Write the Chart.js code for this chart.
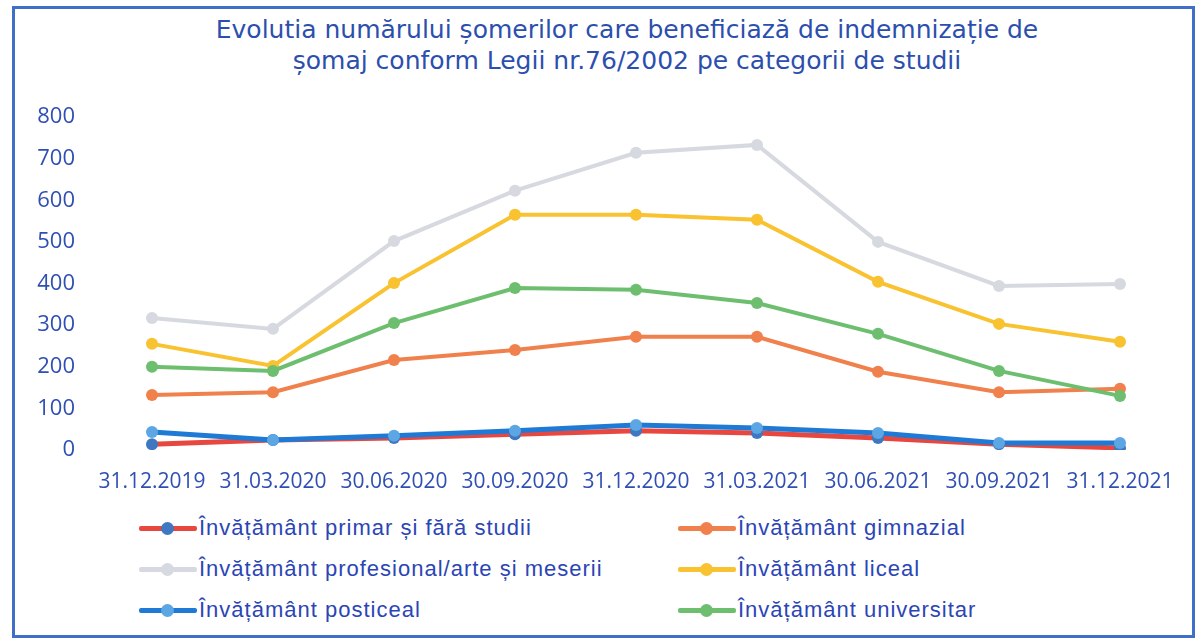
<!DOCTYPE html>
<html>
<head>
<meta charset="utf-8">
<script src="https://cdn.jsdelivr.net/npm/chart.js@4"></script>
<style>
  body { margin:0; background:#fff; }
  #page { position:relative; width:1197px; height:641px; overflow:hidden; background:#fff; }
  #frame { position:absolute; left:12px; top:6px; width:1177px; height:626px; border:3px solid #3f6fc7; }
  #title { position:absolute; left:0; top:14px; width:1254px; text-align:center;
           font-family:"DejaVu Sans", sans-serif; font-size:25px; line-height:31px; color:#2c4fae; }
  #box { position:absolute; left:0; top:92px; width:1197px; height:408px; }
  #legend { position:absolute; left:139px; top:507px; display:grid;
            grid-template-columns:539px 300px; grid-auto-rows:41px; }
  .item { display:flex; align-items:center; font-family:"Liberation Sans", Arial, sans-serif;
          font-size:22px; letter-spacing:1px; color:#2b45b5; white-space:nowrap; }
  .mark { position:relative; width:58px; height:14px; margin-right:2px; }
  .mark .ln { position:absolute; left:0; right:0; top:5px; height:5px; border-radius:2px; }
  .mark .dot { position:absolute; left:22px; top:1px; width:13px; height:13px; border-radius:50%; }
</style>
</head>
<body>
<div id="page">
  <div id="frame"></div>
  <div id="title">Evolutia numărului șomerilor care beneficiază de indemnizație de<br>șomaj conform Legii nr.76/2002 pe categorii de studii</div>
  <div id="box"><canvas id="myChart"></canvas></div>
  <div id="legend"></div>
</div>
<script>
// data
const labels = ['31.12.2019','31.03.2020','30.06.2020','30.09.2020','31.12.2020','31.03.2021','30.06.2021','30.09.2021','31.12.2021'];
const primar = [14, 24, 29, 38, 46, 41, 29, 14, 5];
const gimnazial = [132, 139, 216, 240, 272, 272, 188, 139, 147];
const profesional = [317, 291, 502, 623, 714, 733, 500, 394, 399];
const liceal = [255, 202, 401, 565, 565, 553, 404, 303, 260];
const posticeal = [43, 24, 34, 46, 60, 53, 41, 17, 17];
const universitar = [200, 190, 305, 389, 385, 353, 279, 190, 130];
const yMin = 0, yMax = 800, yStep = 100;

const tickColor = '#2f4fb3';

function serie(label, data, line, dot, width, order) {
  return {
    label: label, data: data,
    borderColor: line, backgroundColor: dot,
    pointBackgroundColor: dot, pointBorderColor: dot,
    borderWidth: width, pointRadius: 6, pointBorderWidth: 0,
    tension: 0, order: order
  };
}

const ctx = document.getElementById('myChart').getContext('2d');
const myChart = new Chart(ctx, {
  type: 'line',
  data: {
    labels: labels,
    datasets: [
      serie('Învățământ primar și fără studii', primar, '#e8473f', '#3f78c0', 5, 6),
      serie('Învățământ gimnazial', gimnazial, '#f0804c', '#f0804c', 4, 5),
      serie('Învățământ profesional/arte și meserii', profesional, '#d6d9df', '#d6d9df', 4, 4),
      serie('Învățământ liceal', liceal, '#f8c230', '#f8c230', 4, 3),
      serie('Învățământ posticeal', posticeal, '#1f7ad6', '#5ba6e3', 5, 2),
      serie('Învățământ universitar', universitar, '#6dbf6f', '#6dbf6f', 4, 1)
    ]
  },
  options: {
    responsive: true,
    maintainAspectRatio: false,
    animation: false,
    layout: { padding: { top: 25, right: 77, left: 0, bottom: 0 } },
    plugins: { legend: { display: false }, tooltip: { enabled: false } },
    scales: {
      x: {
        grid: { display: false, drawTicks: false },
        border: { display: false },
        ticks: { color: tickColor, font: { family: 'Open Sans', size: 21 }, padding: 19, maxRotation: 0, autoSkip: false },
        afterFit: function (s) { s.height = 50; }
      },
      y: {
        min: yMin, max: yMax,
        grid: { display: false, drawTicks: false },
        border: { display: false },
        ticks: { stepSize: yStep, color: tickColor, font: { family: 'Open Sans', size: 22 }, padding: 77 },
        afterFit: function (s) {
          s.width = 152;
          // the big tick padding must not push the plot down
          s.paddingTop = 0;
          s.paddingBottom = 0;
        }
      }
    }
  }
});

// legend in two columns, built from the datasets
const legend = document.getElementById('legend');
myChart.data.datasets.forEach(function (ds) {
  const item = document.createElement('div');
  item.className = 'item';
  item.innerHTML = '<span class="mark"><span class="ln" style="background:' + ds.borderColor +
    '"></span><span class="dot" style="background:' + ds.pointBackgroundColor + '"></span></span>' + ds.label;
  legend.appendChild(item);
});
</script>
</body>
</html>
